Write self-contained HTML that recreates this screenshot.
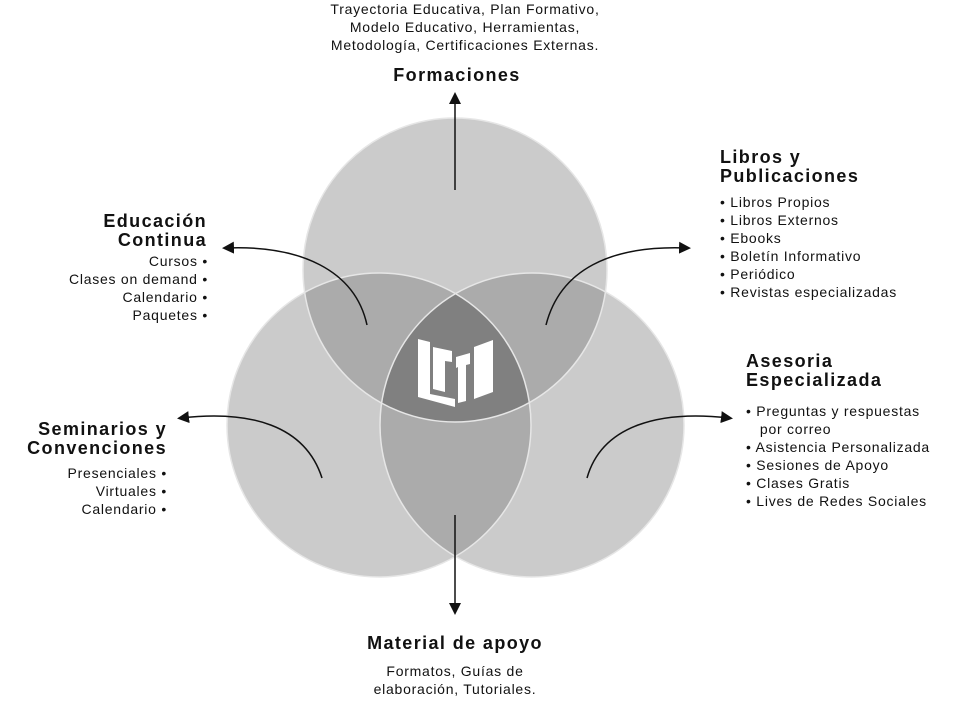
<!DOCTYPE html>
<html><head><meta charset="utf-8"><style>
body{margin:0;background:#fff;width:959px;height:720px;overflow:hidden;font-family:"Liberation Sans",sans-serif;color:#111}
svg{position:absolute;left:0;top:0}
.t{position:absolute;font-size:14px;letter-spacing:0.75px;line-height:18px;white-space:nowrap}
.h{position:absolute;font-size:18px;letter-spacing:1.4px;font-weight:bold;line-height:19px;white-space:nowrap}
</style></head><body>
<svg width="959" height="720">
<defs>
<clipPath id="cT"><circle cx="455" cy="270" r="152"/></clipPath>
<clipPath id="cL"><circle cx="379" cy="425" r="152"/></clipPath>
<clipPath id="cR"><circle cx="532" cy="425" r="152"/></clipPath>
<marker id="a" markerWidth="12" markerHeight="12" refX="8" refY="6" orient="auto" markerUnits="userSpaceOnUse"><path d="M0,0 L12,6 L0,12 z" fill="#111"/></marker>
</defs>
<circle cx="455" cy="270" r="152" fill="#cbcbcb"/>
<circle cx="379" cy="425" r="152" fill="#cbcbcb"/>
<circle cx="532" cy="425" r="152" fill="#cbcbcb"/>
<circle cx="379" cy="425" r="152" fill="#ababab" clip-path="url(#cT)"/>
<circle cx="532" cy="425" r="152" fill="#ababab" clip-path="url(#cT)"/>
<circle cx="532" cy="425" r="152" fill="#ababab" clip-path="url(#cL)"/>
<g clip-path="url(#cT)"><circle cx="532" cy="425" r="152" fill="#808080" clip-path="url(#cL)"/></g>
<g fill="none" stroke="#e6e6e6" stroke-width="1.5">
<circle cx="455" cy="270" r="152"/><circle cx="379" cy="425" r="152"/><circle cx="532" cy="425" r="152"/>
</g>
<g fill="#fff">
<polygon points="418,339 430,342 430,394 455,399 455,407 418,397"/>
<polygon points="433,347 452,351 452,362 445,361 445,392 433,389"/>
<polygon points="456,357 470,353 470,364 466,365 466,401 458,403 458,367 456,368"/>
<polygon points="474,347 493,340 493,392 474,399"/>
</g>
<g fill="none" stroke="#111" stroke-width="1.5" marker-end="url(#a)">
<path d="M455,190 L455,96"/>
<path d="M367,325 C355,270 300,245 226,248"/>
<path d="M546,325 C560,270 610,245 687,248"/>
<path d="M322,478 C305,425 250,410 181,418"/>
<path d="M587,478 C602,425 660,410 729,418"/>
<path d="M455,515 L455,611"/>
</g>
</svg>
<div class="t" style="left:265px;top:0;width:400px;text-align:center">Trayectoria Educativa, Plan Formativo,<br>Modelo Educativo, Herramientas,<br>Metodología, Certificaciones Externas.</div>
<div class="h" style="left:357px;top:66px;width:200px;text-align:center">Formaciones</div>
<div class="h" style="left:720px;top:148px">Libros y<br>Publicaciones</div>
<div class="t" style="left:720px;top:193px">• Libros Propios<br>• Libros Externos<br>• Ebooks<br>• Boletín Informativo<br>• Periódico<br>• Revistas especializadas</div>
<div class="h" style="left:0;top:212px;width:207px;text-align:right">Educación<br>Continua</div>
<div class="t" style="left:0;top:252px;width:208px;text-align:right">Cursos •<br>Clases on demand •<br>Calendario •<br>Paquetes •</div>
<div class="h" style="left:746px;top:352px">Asesoria<br>Especializada</div>
<div class="t" style="left:746px;top:402px">• Preguntas y respuestas<br>&nbsp;&nbsp;&nbsp;por correo<br>• Asistencia Personalizada<br>• Sesiones de Apoyo<br>• Clases Gratis<br>• Lives de Redes Sociales</div>
<div class="h" style="left:0;top:420px;width:167px;text-align:right">Seminarios y<br>Convenciones</div>
<div class="t" style="left:0;top:464px;width:167px;text-align:right">Presenciales •<br>Virtuales •<br>Calendario •</div>
<div class="h" style="left:305px;top:634px;width:300px;text-align:center">Material de apoyo</div>
<div class="t" style="left:305px;top:662px;width:300px;text-align:center">Formatos, Guías de<br>elaboración, Tutoriales.</div>
</body></html>
